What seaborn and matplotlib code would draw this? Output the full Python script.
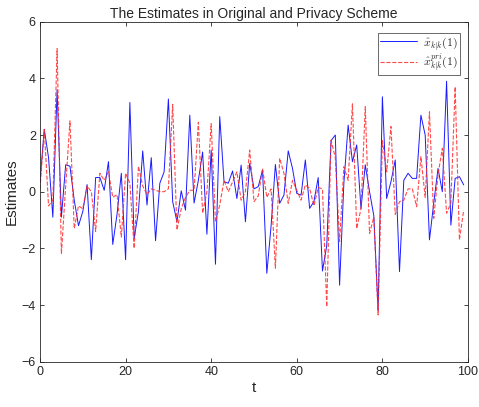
import numpy as np
import pandas as pd
import matplotlib
matplotlib.use("Agg")
import matplotlib.pyplot as plt
import seaborn as sns

# time index
t = np.arange(100)

# estimates
x_orig = [0.35, 2.2, 1.2, -0.9, 3.6, -0.9, 0.95, 0.9, -0.3, -1.2,
          -0.7, 0.25, -2.4, 0.5, 0.5, 0.05, 1.06, -1.86, -0.8, 0.65,
          -2.4, 3.15, -1.65, -0.7, 1.44, -0.47, 1.2, -1.73, 0.3, 0.7,
          3.27, -0.35, -1.06, 0.03, -0.65, 2.7, -0.4, 0.4, 1.4, -1.5,
          1.47, -2.56, 2.65, 0.35, 0.3, 0.73, -0.24, 0.94, -1.06, 1.0,
          0.1, 0.18, 0.76, -2.88, -1.2, 0.96, -0.41, -0.12, 1.44, 0.82,
          -0.06, -0.12, 1.12, -0.59, -0.35, 0.5, -2.8, -1.9, 1.8, 2.0,
          -3.3, 0.3, 2.35, 1.06, 1.65, -0.6, 0.95, 0.0, -0.85, -4.2,
          3.35, -0.24, 0.35, 1.12, -2.82, 0.4, 0.65, 0.47, 0.47, 2.7,
          2.0, -1.7, -0.4, 0.82, 0.0, 3.9, -1.18, 0.47, 0.53, 0.24]

x_pri = [0.1, 2.2, -0.5, -0.3, 5.05, -2.2, 0.2, 2.5, -1.3, -0.5,
         -0.6, 0.2, 0.0, -1.4, 0.65, 0.4, 0.7, -0.2, -0.1, -1.6,
         0.65, 0.3, -2.0, 0.9, 0.2, -0.1, 0.1, 0.05, 0.0, 0.0,
         0.1, 3.08, -1.35, -0.6, -0.2, 0.05, 0.05, 2.45, -0.76, 0.0,
         2.4, -1.06, -0.47, 0.4, 0.0, 0.35, 0.7, -0.3, 0.0, 1.47,
         -0.35, -0.15, 0.82, -0.2, 0.1, -2.7, 1.18, 0.65, -0.41, 0.4,
         0.05, -0.3, 0.24, 0.12, -0.5, 0.15, 0.1, -4.06, 1.82, 1.2,
         -1.76, 0.88, 0.4, 3.1, -1.3, -0.6, 3.0, -1.47, -0.9, -4.35,
         1.8, 0.7, 2.3, -0.8, -0.35, -0.3, 0.1, 0.1, -0.53, 1.24,
         -0.2, 2.82, -0.94, 0.6, 1.53, -0.76, -0.4, 3.7, -1.7, -0.65]

df = pd.DataFrame({"t": t, "orig": x_orig, "pri": x_pri})

sns.set_style("white")
plt.rcParams["font.family"] = ["Liberation Sans", "DejaVu Sans"]
plt.rcParams["mathtext.fontset"] = "cm"

fig = plt.figure(figsize=(4.79, 4.07), dpi=100)
ax = fig.add_axes([0.0835, 0.1113, 0.8935, 0.8354])

sns.lineplot(data=df, x="t", y="orig", ax=ax, color="#1a1aff", linewidth=0.7,
             label=r"$\hat{x}_{k|k}(1)$")
sns.lineplot(data=df, x="t", y="pri", ax=ax, color="#ff2a2a", linewidth=0.8,
             alpha=0.85, linestyle="--", dashes=(5, 3),
             label=r"$\hat{x}^{pri}_{k|k}(1)$")

ax.set_xlim(0, 100)
ax.set_ylim(-6, 6)
ax.set_xticks(range(0, 101, 20))
ax.set_yticks(range(-6, 7, 2))
ax.tick_params(direction="in", length=3, width=0.6, bottom=True, left=True,
               top=True, right=True, labelsize=9, colors="#262626", pad=3)
for s in ax.spines.values():
    s.set_color("#262626")
    s.set_linewidth(0.6)

ax.set_title("The Estimates in Original and Privacy Scheme", fontsize=10, pad=3)
ax.set_xlabel("t", fontsize=11, labelpad=2)
ax.set_ylabel("Estimates", fontsize=11, labelpad=2)

leg = ax.legend(loc="upper right", bbox_to_anchor=(0.981, 0.967), fontsize=8.5,
                frameon=True, fancybox=False, borderaxespad=0.0,
                handlelength=3.2, borderpad=0.15, labelspacing=0.0,
                handletextpad=0.5)
leg.get_frame().set_edgecolor("#262626")
leg.get_frame().set_linewidth(0.6)

fig.savefig("out.png", dpi=100)
